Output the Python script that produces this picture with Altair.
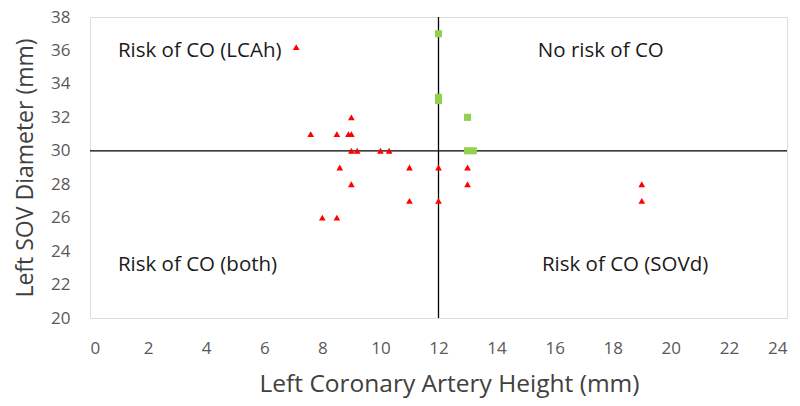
import altair as alt
import pandas as pd

red_x = [7.1, 7.6, 8.5, 8.9, 9.0, 9.0, 9.0, 9.2, 10.0, 10.3, 8.6, 9.0, 8.0, 8.5, 11.0, 11.0, 12.0, 12.0, 13.0, 13.0, 19.0, 19.0]
red_y = [36.2, 31, 31, 31, 31, 32, 30, 30, 30, 30, 29, 28, 26, 26, 29, 27, 29, 27, 29, 28, 28, 27]
green_x = [12.0, 12.0, 12.0, 13.0, 13.0, 13.2]
green_y = [37.0, 33.2, 33.0, 32.0, 30.0, 30.0]
labels = ["Risk of CO (LCAh)", "No risk of CO", "Risk of CO (both)", "Risk of CO (SOVd)"]
label_x = [0.96, 15.42, 0.96, 15.56]
label_y = [35.94, 35.94, 23.18, 23.18]
x_ticks = list(range(0, 25, 2))
y_ticks = list(range(20, 39, 2))

red = pd.DataFrame({"x": red_x, "y": red_y})
green = pd.DataFrame({"x": green_x, "y": green_y})
lab = pd.DataFrame({"x": label_x, "y": label_y, "t": labels})

font = "Open Sans"
xs = alt.Scale(domain=[0, 24], nice=False)
ys = alt.Scale(domain=[20, 38], nice=False)
xax = alt.Axis(values=x_ticks, title="Left Coronary Artery Height (mm)", grid=False, ticks=False,
               domain=False, labelFontSize=17, labelColor="#595959", labelFont=font, labelOverlap=False,
               labelPadding=22, titleFontSize=24.5, titleFont=font, titleFontWeight="normal",
               titleColor="#404040", titlePadding=16, titleX=359)
yax = alt.Axis(values=y_ticks, title="Left SOV Diameter (mm)", grid=False, ticks=False,
               domain=False, labelFontSize=17, labelColor="#595959", labelFont=font, labelOverlap=False,
               labelPadding=20, titleFontSize=23, titleFont=font, titleFontWeight="normal",
               titleColor="#404040", titlePadding=13)

X = alt.X("x:Q", scale=xs, axis=xax)
Y = alt.Y("y:Q", scale=ys, axis=yax)

pts_r = alt.Chart(red).mark_point(shape="triangle-up", filled=True, color="#FF0000", size=45, opacity=1).encode(x=X, y=Y)
pts_g = alt.Chart(green).mark_point(shape="square", filled=True, color="#92D050", size=50, opacity=1).encode(x=X, y=Y)
vline = alt.Chart(pd.DataFrame({"x": [12]})).mark_rule(color="#000000", strokeWidth=1.3).encode(x=X)
hline = alt.Chart(pd.DataFrame({"y": [30]})).mark_rule(color="#000000", strokeWidth=1.3).encode(y=Y)
txt = alt.Chart(lab).mark_text(align="left", baseline="middle", fontSize=20.5, font=font, color="#1a1a1a").encode(
    x=X, y=Y, text="t:N")

chart = alt.layer(vline, hline, pts_r, pts_g, txt).properties(
    width=697, height=301,
    autosize=alt.AutoSizeParams(type="none"),
    padding={"left": 82, "top": 9, "right": 5, "bottom": 80},
).configure_view(stroke="#404040", strokeWidth=1.3).configure(background="white")

chart.save("out.html", embed_options={"renderer": "svg", "actions": False})
